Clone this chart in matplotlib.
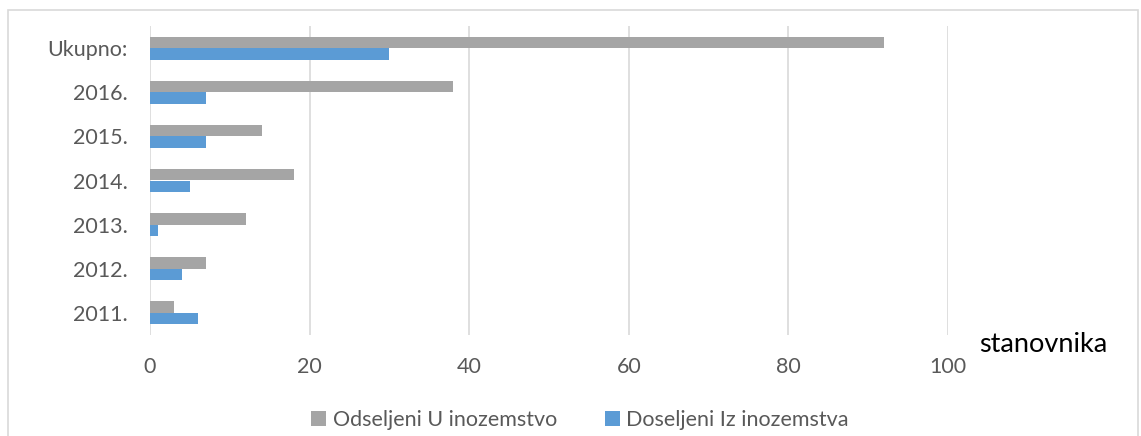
import matplotlib.pyplot as plt
from matplotlib.patches import Rectangle
import numpy as np

plt.rcParams['font.family'] = ['Lato', 'DejaVu Sans']

categories = ['2011.', '2012.', '2013.', '2014.', '2015.', '2016.', 'Ukupno:']
odseljeni = [3, 7, 12, 18, 14, 38, 92]
doseljeni = [6, 4, 1, 5, 7, 7, 30]
xticks = [0, 20, 40, 60, 80, 100]

grey = '#a5a5a5'
blue = '#5b9bd5'
text_col = '#595959'

fig = plt.figure(figsize=(11.41, 4.36), dpi=100)
ax = fig.add_axes([150 / 1141, 1 - 335 / 436, 798 / 1141, 309 / 436])

# chart border like the spreadsheet frame
fig.patches.append(Rectangle((8 / 1141, -0.05), 1130 / 1141, 1.05 - 10 / 436,
                             transform=fig.transFigure, fill=False,
                             edgecolor='#d9d9d9', linewidth=1.2))

y = np.arange(len(categories))
h = 0.26
ax.barh(y + h / 2, odseljeni, height=h, color=grey, label='Odseljeni U inozemstvo')
ax.barh(y - h / 2, doseljeni, height=h, color=blue, label='Doseljeni Iz inozemstva')

ax.set_xlim(0, 100)
ax.set_ylim(-0.5, len(categories) - 0.5)
ax.set_xticks(xticks)
ax.set_yticks(y)
ax.set_yticklabels(categories)
ax.grid(axis='x', color='#d9d9d9', linewidth=1.2)
ax.set_axisbelow(True)
for s in ax.spines.values():
    s.set_visible(False)
ax.tick_params(axis='both', length=0, labelsize=15.5, colors=text_col)
ax.tick_params(axis='y', pad=16)
ax.tick_params(axis='x', pad=16)

fig.text(979 / 1141, 1 - 345 / 436, 'stanovnika', fontsize=19.5, color='black',
         ha='left', va='center')

fig.legend(loc='center', bbox_to_anchor=(580 / 1141, 1 - 420 / 436), ncol=2,
           frameon=False, fontsize=15.5, labelcolor=text_col, handlelength=0.7,
           handleheight=0.7, handletextpad=0.3, columnspacing=2.2)

fig.savefig('out.png', dpi=100)
